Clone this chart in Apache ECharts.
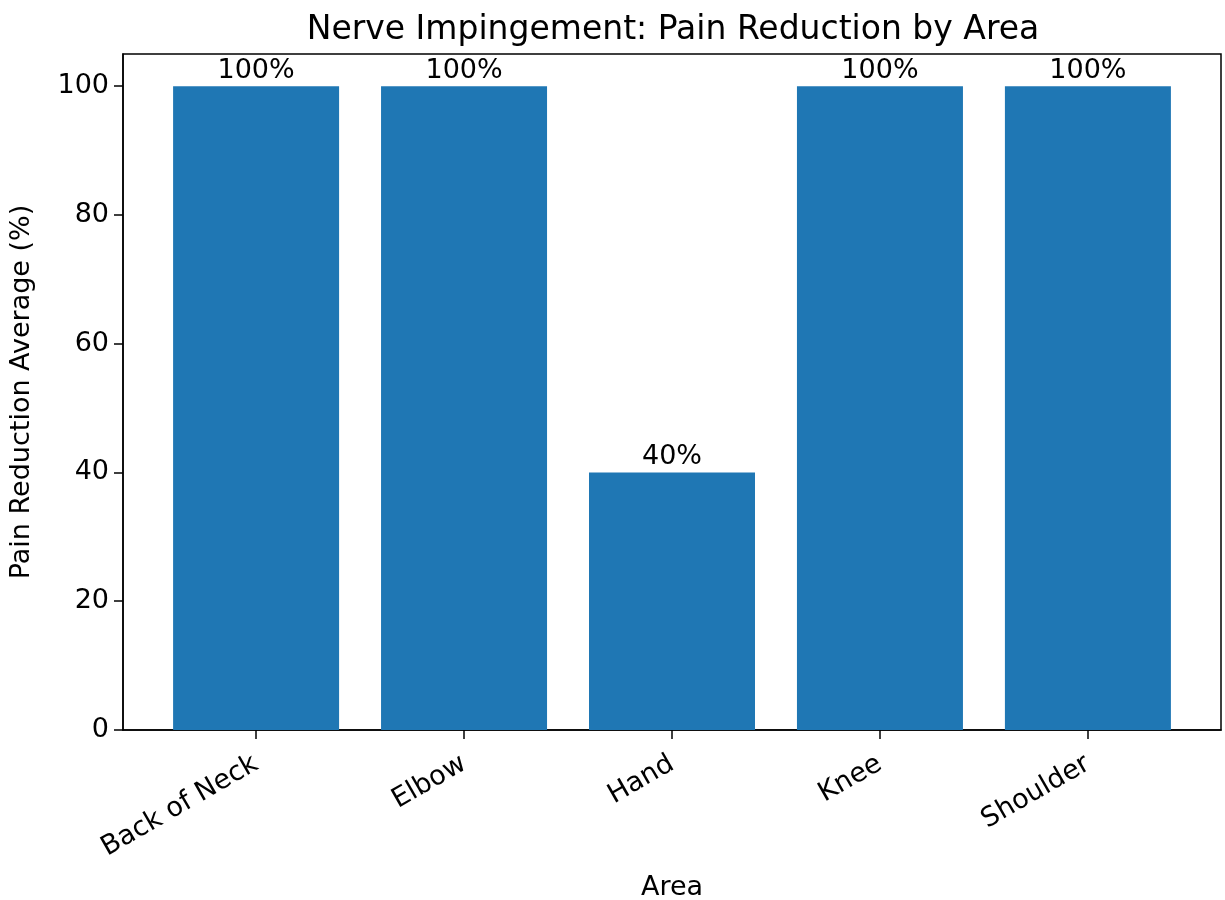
<!DOCTYPE html>
<html>
<head>
<meta charset="utf-8">
<script src="https://cdn.jsdelivr.net/npm/echarts@6/dist/echarts.min.js"></script>
<style>
  html, body { margin: 0; padding: 0; background: #fff; }
  #chart { width: 1225px; height: 900px; }
</style>
</head>
<body>
<div id="chart"></div>
<script>
// 数据
const areas = ['Back of Neck', 'Elbow', 'Hand', 'Knee', 'Shoulder']
const painReduction = [100, 100, 40, 100, 100]
const yTickMax = 100
const yTickStep = 20

const font = 'DejaVu Sans'
const positions = areas.map((_, i) => i)
const axisColor = '#000'

let option = {
  animation: false,
  textStyle: { fontFamily: font },
  title: {
    text: 'Nerve Impingement: Pain Reduction by Area',
    left: 668,
    top: 9,
    textAlign: 'center',
    textStyle: { fontFamily: font, fontSize: 33, fontWeight: 'normal', color: '#000' },
  },
  grid: [
    // 主绘图区 (0 - 105)
    {
      left: 123, right: 4, top: 54, bottom: 170,
      show: true, borderColor: axisColor, borderWidth: 1.5,
      outerBoundsMode: 'none',
    },
    // 刻度区 (0 - 100)，只用来画 y 轴刻度
    {
      left: 123, right: 4, top: 54 + 643 * 0.05, bottom: 170,
      outerBoundsMode: 'none',
    },
  ],
  xAxis: [
    {
      gridIndex: 0,
      type: 'value',
      min: -0.64,
      max: 4.64,
      name: 'Area',
      nameLocation: 'middle',
      nameGap: 144,
      nameTextStyle: { fontFamily: font, fontSize: 27, color: '#000' },
      splitLine: { show: false },
      axisLine: { show: true, onZero: false, lineStyle: { color: axisColor, width: 1.5 } },
      axisTick: { show: true, length: 9, customValues: positions, lineStyle: { color: axisColor, width: 1.5 } },
      axisLabel: {
        customValues: positions,
        rotate: 30,
        margin: 32,
        fontFamily: font,
        fontSize: 27,
        color: '#000',
        formatter: (v) => areas[Math.round(v)] || '',
      },
    },
    { gridIndex: 1, type: 'value', show: false, min: 0, max: 1 },
  ],
  yAxis: [
    {
      gridIndex: 0,
      type: 'value',
      min: 0,
      max: 105,
      name: 'Pain Reduction Average (%)',
      nameLocation: 'middle',
      nameGap: 88,
      nameTextStyle: { fontFamily: font, fontSize: 27, color: '#000' },
      splitLine: { show: false },
      axisLine: { show: true, onZero: false, lineStyle: { color: axisColor, width: 1.5 } },
      axisTick: { show: false },
      axisLabel: { show: false },
    },
    {
      gridIndex: 1,
      type: 'value',
      min: 0,
      max: yTickMax,
      interval: yTickStep,
      splitLine: { show: false },
      axisLine: { show: false, onZero: false },
      axisTick: { show: true, length: 9, lineStyle: { color: axisColor, width: 1.5 } },
      axisLabel: { margin: 14, fontFamily: font, fontSize: 27, color: '#000' },
    },
  ],
  series: [
    {
      type: 'bar',
      xAxisIndex: 0,
      yAxisIndex: 0,
      barWidth: 166,
      itemStyle: { color: '#1f77b4' },
      label: {
        show: true,
        position: 'top',
        distance: 2,
        fontFamily: font,
        fontSize: 27,
        color: '#000',
        formatter: (p) => p.value[1] + '%',
      },
      data: painReduction.map((v, i) => [i, v]),
    },
  ],
}

let myChart = echarts.init(document.getElementById('chart'))
myChart.setOption(option)
</script>
</body>
</html>
